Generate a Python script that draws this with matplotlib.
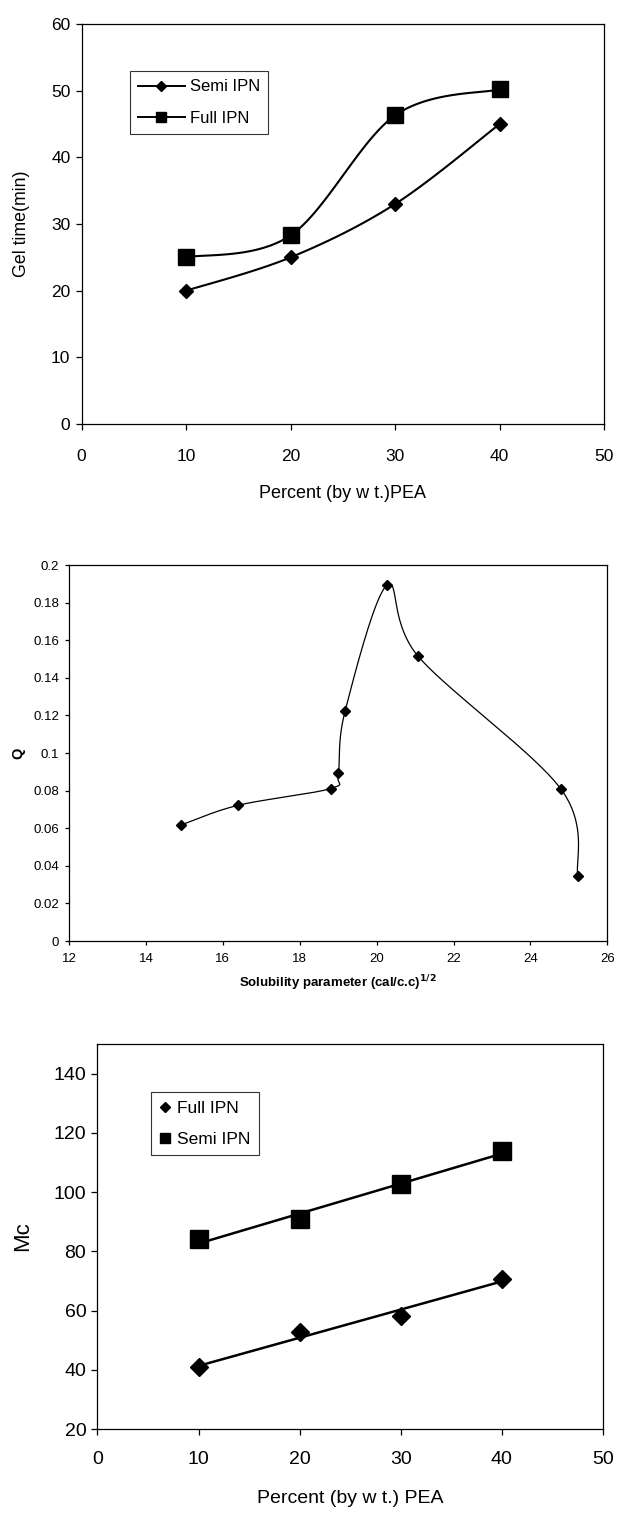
import numpy as np
import matplotlib
matplotlib.use("Agg")
import matplotlib.pyplot as plt

plt.rcParams['font.family'] = ['Liberation Sans', 'DejaVu Sans']

# ---- Data ----
# Top chart: gel time vs PEA content
pea_pct = [10, 20, 30, 40]
gel_semi = [20.0, 25.0, 33.0, 45.0]
gel_full = [25.0, 28.3, 46.3, 50.2]

# Middle chart: Q vs solubility parameter
sol_param = [14.9, 16.4, 18.8, 19.0, 19.18, 20.27, 21.08, 24.8, 25.23]
q_values = [0.0616, 0.0722, 0.0811, 0.0891, 0.1224, 0.1893, 0.1514, 0.0806, 0.0348]

# Bottom chart: Mc vs PEA content
mc_full = [40.8, 52.7, 58.1, 70.7]
mc_semi = [84.0, 90.8, 102.6, 113.8]

W, H = 618, 1521
fig = plt.figure(figsize=(W / 100, H / 100), dpi=100)


def ax_rect(left, right, top, bottom):
    return [left / W, 1 - bottom / H, (right - left) / W, (bottom - top) / H]


def smooth(ax, xs, ys, n=40):
    pts = ax.transData.transform(np.column_stack([xs, ys]))
    P = np.vstack([pts[0], pts, pts[-1]])
    out = []
    for i in range(len(pts) - 1):
        p0, p1, p2, p3 = P[i], P[i + 1], P[i + 2], P[i + 3]
        c1 = p1 + (p2 - p0) / 6.0
        c2 = p2 - (p3 - p1) / 6.0
        t = np.linspace(0, 1, n)[:, None]
        seg = (1 - t) ** 3 * p1 + 3 * (1 - t) ** 2 * t * c1 + 3 * (1 - t) * t ** 2 * c2 + t ** 3 * p2
        out.append(seg if i == 0 else seg[1:])
    out = np.vstack(out)
    d = ax.transData.inverted().transform(out)
    return d[:, 0], d[:, 1]


def style_axes(ax, fs, tlen=4, xpad=9):
    for s in ax.spines.values():
        s.set_linewidth(0.9)
        s.set_color('black')
    ax.tick_params(direction='out', length=tlen, width=0.9, labelsize=fs, colors='black')
    ax.tick_params(axis='x', pad=xpad)
    ax.tick_params(axis='y', pad=4)


# ---------------- Top chart ----------------
ax1 = fig.add_axes(ax_rect(81.6, 604.2, 24, 424))
ax1.set_xlim(0, 50)
ax1.set_ylim(0, 60)
ax1.set_xticks(range(0, 51, 10))
ax1.set_yticks(range(0, 61, 10))
style_axes(ax1, 12.5, xpad=14)

sx, sy = smooth(ax1, pea_pct, gel_semi)
ax1.plot(sx, sy, color='black', lw=1.5, zorder=2)
fx, fy = smooth(ax1, pea_pct, gel_full)
ax1.plot(fx, fy, color='black', lw=1.5, zorder=2)
ax1.plot(pea_pct, gel_semi, ls='none', marker='D', ms=7.4, color='black', zorder=3)
ax1.plot(pea_pct, gel_full, ls='none', marker='s', ms=11.5, color='black', zorder=3)

h1, = ax1.plot([], [], color='black', lw=1.4, marker='D', ms=5.5, label='Semi IPN')
h2, = ax1.plot([], [], color='black', lw=1.4, marker='s', ms=6.5, label='Full IPN')
leg1 = ax1.legend(handles=[h1, h2], loc='upper left', bbox_to_anchor=(0.092, 0.8825),
                  fontsize=12, frameon=True, fancybox=False, handlelength=2.8,
                  handletextpad=0.3, borderpad=0.5, labelspacing=1.0, borderaxespad=0)
leg1.get_frame().set_edgecolor('black')
leg1.get_frame().set_linewidth(0.8)

ax1.set_xlabel('Percent (by w t.)PEA', fontsize=13, labelpad=15)
ax1.set_ylabel('Gel time(min)', fontsize=12.8, labelpad=15)

# ---------------- Middle chart ----------------
ax2 = fig.add_axes(ax_rect(69, 607.4, 565, 941))
ax2.set_xlim(12, 26)
ax2.set_ylim(0, 0.2)
ax2.set_xticks(range(12, 27, 2))
ax2.set_yticks(np.arange(0, 0.201, 0.02))
ax2.set_yticklabels(['0', '0.02', '0.04', '0.06', '0.08', '0.1', '0.12', '0.14',
                     '0.16', '0.18', '0.2'])
style_axes(ax2, 9.5, tlen=3, xpad=6)

qx, qy = smooth(ax2, sol_param, q_values)
ax2.plot(qx, qy, color='black', lw=0.9, zorder=2)
ax2.plot(sol_param, q_values, ls='none', marker='D', ms=5.6, color='black', zorder=3)
ax2.set_xlabel('Solubility parameter (cal/c.c)$^{\\mathbf{1/2}}$', fontsize=9.5,
               fontweight='bold', labelpad=6)
ax2.set_ylabel('Q', fontsize=10.5, fontweight='bold', labelpad=6)

# ---------------- Bottom chart ----------------
ax3 = fig.add_axes(ax_rect(97.4, 603, 1044, 1429))
ax3.set_xlim(0, 50)
ax3.set_ylim(20, 150)
ax3.set_xticks(range(0, 51, 10))
ax3.set_yticks(range(20, 141, 20))
style_axes(ax3, 14, xpad=12)

xs = np.array(pea_pct, dtype=float)
for vals, mk, ms in [(mc_full, 'D', 9.2), (mc_semi, 's', 12.5)]:
    k, b = np.polyfit(xs, vals, 1)
    ax3.plot([xs[0], xs[-1]], [k * xs[0] + b, k * xs[-1] + b], color='black', lw=1.8, zorder=2)
    ax3.plot(xs, vals, ls='none', marker=mk, ms=ms, color='black', zorder=3)

g1, = ax3.plot([], [], ls='none', marker='D', ms=5.5, color='black', label='Full IPN')
g2, = ax3.plot([], [], ls='none', marker='s', ms=6.5, color='black', label='Semi IPN')
leg3 = ax3.legend(handles=[g1, g2], loc='upper left', bbox_to_anchor=(0.106, 0.875),
                  fontsize=12.5, frameon=True, fancybox=False, handlelength=0.6,
                  handletextpad=0.4, borderpad=0.5, labelspacing=0.9, borderaxespad=0)
leg3.get_frame().set_edgecolor('black')
leg3.get_frame().set_linewidth(0.8)

ax3.set_xlabel('Percent (by w t.) PEA', fontsize=14, labelpad=16)
ax3.set_ylabel('Mc', fontsize=16, labelpad=15)

fig.savefig('out.png', dpi=100, facecolor='white')
